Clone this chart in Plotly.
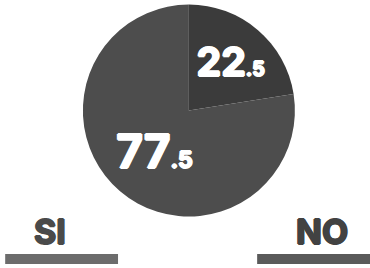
import plotly.graph_objects as go

labels = ["NO", "SI"]
values = [22.5, 77.5]
slice_colors = ["#3b3b3b", "#4d4d4d"]
legend_text_colors = ["#424242", "#4a4a4a"]
legend_bar_colors = ["#5a5a5a", "#6c6c6c"]

def fmt(v):
    whole, dec = f"{v:.1f}".split(".")
    return f"<b>{whole}</b><span style='font-size:23px'><b>.{dec}</b></span>"

def thick(c):
    return f"1px 0 0 {c}, -1px 0 0 {c}, 0 1px 0 {c}, 0 -1px 0 {c}"

fig = go.Figure(go.Pie(
    labels=labels,
    values=values,
    text=[fmt(v) for v in values],
    textinfo="text",
    textposition="inside",
    insidetextorientation="horizontal",
    sort=False,
    direction="clockwise",
    rotation=0,
    marker=dict(colors=slice_colors, line=dict(width=0)),
    textfont=dict(family="Inter, DejaVu Sans", size=46, color="white", weight=900,
                  shadow=thick("white")),
    hoverinfo="label+value",
    domain=dict(x=[0.224, 0.797], y=[0.19, 0.985]),
    showlegend=False,
))

pos = {"SI": (0.014, 0.319, 0.135), "NO": (0.695, 1.0, 0.869)}
for lab, tc, bc in zip(labels, legend_text_colors, legend_bar_colors):
    x0, x1, xc = pos[lab]
    fig.add_annotation(
        x=xc, y=0.136, xref="paper", yref="paper",
        text=f"<b>{lab}</b>", showarrow=False,
        font=dict(family="Inter, DejaVu Sans", size=34, color=tc, weight=900,
                  shadow=thick(tc)),
        xanchor="center", yanchor="middle",
    )
    fig.add_shape(type="rect", xref="paper", yref="paper",
                  x0=x0, x1=x1, y0=0.015, y1=0.052,
                  fillcolor=bc, line=dict(width=0))

fig.update_layout(
    width=370, height=268,
    margin=dict(l=0, r=0, t=0, b=0),
    paper_bgcolor="white", plot_bgcolor="white",
)
fig.write_html("out.html", config={"displayModeBar": False},
               post_script="document.body.style.margin='0';document.body.style.overflow='hidden';")
